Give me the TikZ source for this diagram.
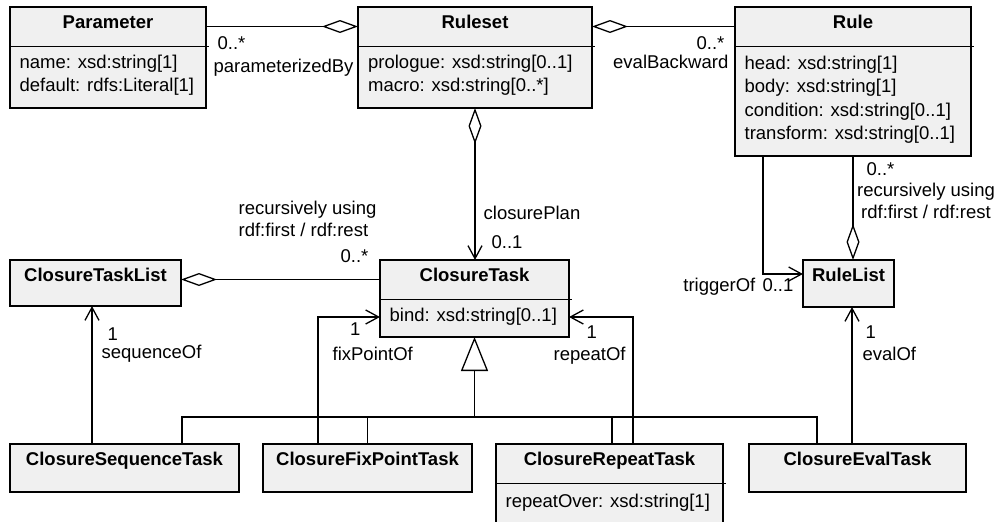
\documentclass[tikz,border=0pt]{standalone}
\usepackage{fontspec}
\setmainfont{Liberation Sans}
\usetikzlibrary{arrows.meta}
\definecolor{classfill}{RGB}{240,240,240}
\newcommand{\umlfont}{\fontsize{18.5}{23.5}\selectfont}

\begin{document}
\begin{tikzpicture}[x=1pt, y=-1pt, font=\umlfont, line width=1.3pt,
  classbox/.style={draw, fill=classfill, inner sep=0pt, outer sep=0pt},
  classname/.style={font=\umlfont\bfseries, inner sep=0pt, minimum height=39pt, text height=13.5pt, text depth=10pt},
  attrs/.style={align=left, inner sep=0pt, anchor=west},
  lbl/.style={inner sep=0pt},
  note/.style={inner sep=0pt, font=\fontsize{18.5}{22}\selectfont},
  aggr/.style={{Diamond[open,length=36pt,width=13pt]}-},
  aggrnav/.style={{Diamond[open,length=36pt,width=13pt]}-{Straight Barb[length=13pt,width=14pt]}},
  assoc/.style={-{Straight Barb[length=13pt,width=14pt]}},
  gen/.style={{Triangle[open,length=34pt,width=27pt]}-}]
\useasboundingbox (0,0) rectangle (1002,522);
\clip (0,0) rectangle (1002,522);

\node[classbox, minimum width=196pt, minimum height=101pt] (param) at (108,57.5) {};
\node[classname] (paramT) at (108,26.5) {Parameter};
\node[attrs] (paramA) at (19,75) {name: xsd:string[1]\\default: rdfs:Literal[1]};
\draw (paramT.south -| param.west) -- (paramT.south -| param.east) -- ++(3,0);

\node[classbox, minimum width=234pt, minimum height=101pt] (ruleset) at (475,57.5) {};
\node[classname] (rulesetT) at (475,26.5) {Ruleset};
\node[attrs] (rulesetA) at (367.5,75) {prologue: xsd:string[0..1]\\macro: xsd:string[0..*]};
\draw (rulesetT.south -| ruleset.west) -- (rulesetT.south -| ruleset.east) -- ++(3,0);

\node[classbox, minimum width=236pt, minimum height=149pt] (rule) at (853,81.5) {};
\node[classname] (ruleT) at (853,26.5) {Rule};
\node[attrs] (ruleA) at (744,99.5) {head: xsd:string[1]\\body: xsd:string[1]\\condition: xsd:string[0..1]\\transform: xsd:string[0..1]};
\draw (ruleT.south -| rule.west) -- (ruleT.south -| rule.east) -- ++(3,0);

\node[classbox, minimum width=171pt, minimum height=46pt] (ctlist) at (95.5,283) {};
\node[classname] (ctlistT) at (95.5,279.5) {ClosureTaskList};

\node[classbox, minimum width=189pt, minimum height=77pt] (ctask) at (474.5,298.5) {};
\node[classname] (ctaskT) at (474.5,279.5) {ClosureTask};
\node[attrs] (ctaskA) at (389,317) {bind: xsd:string[0..1]};
\draw (ctaskT.south -| ctask.west) -- (ctaskT.south -| ctask.east) -- ++(3,0);

\node[classbox, minimum width=91pt, minimum height=47pt] (rulelist) at (848.5,283.5) {};
\node[classname] (rulelistT) at (848.5,279.5) {RuleList};

\node[classbox, minimum width=229pt, minimum height=48pt] (cseq) at (124.5,468) {};
\node[classname] (cseqT) at (124.5,463.5) {ClosureSequenceTask};

\node[classbox, minimum width=209pt, minimum height=48pt] (cfix) at (367.5,468) {};
\node[classname] (cfixT) at (367.5,463.5) {ClosureFixPointTask};

\node[classbox, minimum width=227pt, minimum height=82pt] (crepeat) at (609.5,485) {};
\node[classname] (crepeatT) at (609.5,463.5) {ClosureRepeatTask};
\node[attrs] (crepeatA) at (505,503) {repeatOver: xsd:string[1]};
\draw (crepeatT.south -| crepeat.west) -- (crepeatT.south -| crepeat.east) -- ++(3,0);

\node[classbox, minimum width=217pt, minimum height=48pt] (ceval) at (857.5,468) {};
\node[classname] (cevalT) at (857.5,463.5) {ClosureEvalTask};

\draw[aggr] (rulesetT -| ruleset.west) -- (paramT -| param.east);
\draw[aggr] (rulesetT -| ruleset.east) -- (ruleT -| rule.west);
\draw[aggrnav] (ruleset.south) -- (ruleset.south |- ctask.north);
\draw[aggr] (ctlistT -| ctlist.east) -- (ctlistT -| ctask.west);
\draw[assoc] ([xshift=-90pt]rule.south) |- ([yshift=9.5pt]rulelist.west);
\draw[aggr] (rulelist.north -| rule.south) -- (rule.south);
\draw[assoc] ([xshift=-32.5pt]cseq.north) -- ([xshift=-3.5pt]ctlist.south);
\draw[assoc] ([xshift=-49.5pt]cfix.north) |- (ctaskA -| ctask.west);
\draw[assoc] ([xshift=23.5pt]crepeat.north) |- (ctaskA -| ctask.east);
\draw[assoc] ([xshift=-5.5pt]ceval.north) -- ([xshift=3.5pt]rulelist.south);

\coordinate (genbar) at (474.5,417);
\draw[gen] (ctask.south) -- (genbar);
\draw ([xshift=57.5pt]cseq.north) |- (genbar) -| ([xshift=-40.5pt]ceval.north);
\draw (cfix.north) |- (genbar);
\draw ([xshift=2.5pt]crepeat.north) |- (genbar);

\node[lbl, anchor=base west] (pbMult) at (217,49.5) {0..*};
\node[lbl, anchor=base west] (pbRole) at (213,72) {parameterizedBy};
\node[lbl, anchor=base east] (ebMult) at (725,49.5) {0..*};
\node[lbl, anchor=base east] (ebRole) at (729,68) {evalBackward};
\node[lbl, anchor=base west] (cpRole) at (483,219) {closurePlan};
\node[lbl, anchor=base west] (cpMult) at (491,248) {0..1};
\node[note, anchor=north west, align=left] (ctlNote) at (238,200) {recursively using\\rdf:first / rdf:rest};
\node[lbl, anchor=base east] (ctlMult) at (369,262) {0..*};
\node[lbl, anchor=base west] (rlMult) at (866,175) {0..*};
\node[note, anchor=north, align=center] (rlNote) at (926,182) {recursively using\\rdf:first / rdf:rest};
\node[lbl, anchor=base east] (trMult) at (794,291) {0..1};
\node[lbl, anchor=base east] (trRole) at (756,291) {triggerOf};
\node[lbl, anchor=base west] (sqMult) at (107,340) {1};
\node[lbl, anchor=base west] (sqRole) at (101,358) {sequenceOf};
\node[lbl, anchor=base east] (fpMult) at (361,335) {1};
\node[lbl, anchor=base west] (fpRole) at (332,360) {fixPointOf};
\node[lbl, anchor=base west] (rpMult) at (586,338) {1};
\node[lbl, anchor=base west] (rpRole) at (553,360) {repeatOf};
\node[lbl, anchor=base west] (evMult) at (865,338) {1};
\node[lbl, anchor=base west] (evRole) at (862,360) {evalOf};
\end{tikzpicture}
\end{document}
